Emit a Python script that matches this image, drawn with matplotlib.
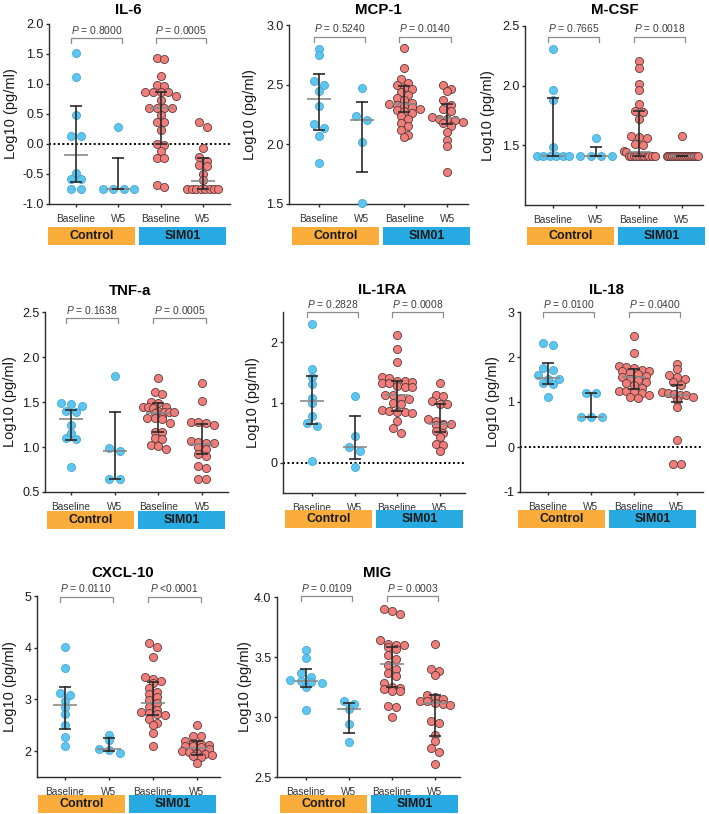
import numpy as np
import matplotlib
matplotlib.use("Agg")
import matplotlib.pyplot as plt
from matplotlib.transforms import blended_transform_factory
from matplotlib.patches import Rectangle

plt.rcParams['font.family'] = ['Liberation Sans', 'DejaVu Sans']
plt.rcParams['axes.unicode_minus'] = False
plt.rcParams['mathtext.fontset'] = 'custom'
plt.rcParams['mathtext.it'] = 'Liberation Sans:italic'
plt.rcParams['mathtext.rm'] = 'Liberation Sans'

# ---------------- data ----------------
categories = ["Baseline", "W5", "Baseline", "W5"]
group_labels = ["Control", "SIM01"]
ylabel = "Log10 (pg/ml)"

# IL-6
il6_cb = [1.52, 1.12, 0.48, 0.13, 0.13, -0.49, -0.59, -0.59, -0.75, -0.75]
il6_cw = [0.28, -0.75, -0.75, -0.75, -0.75]
il6_sb = [1.44, 1.42, 1.14, 0.98, 0.97, 0.87, 0.87, 0.87, 0.86, 0.80, 0.74, 0.60, 0.60,
          0.60, 0.60, 0.48, 0.37, 0.37, 0.23, 0.00, -0.02, -0.11, -0.24, -0.24, -0.68, -0.72]
il6_sw = [0.36, 0.29, -0.06, -0.21, -0.28, -0.35, -0.37, -0.50, -0.60, -0.75, -0.75,
          -0.75, -0.75, -0.75, -0.75, -0.75, -0.75]
il6_med = [-0.18, -0.75, 0.60, -0.62]
il6_q1 = [-0.63, -0.75, 0.00, -0.75]
il6_q3 = [0.63, -0.24, 0.87, -0.23]
il6_p = ["= 0.8000", "= 0.0005"]

# MCP-1
mcp_cb = [2.80, 2.75, 2.53, 2.50, 2.45, 2.32, 2.17, 2.14, 2.07, 1.84]
mcp_cw = [2.47, 2.24, 2.20, 2.02, 1.51]
mcp_sb = [2.81, 2.64, 2.55, 2.51, 2.50, 2.47, 2.46, 2.44, 2.41, 2.39, 2.37, 2.35, 2.34, 2.33,
          2.32, 2.31, 2.30, 2.29, 2.28, 2.26, 2.24, 2.21, 2.18, 2.15, 2.12, 2.08, 2.06]
mcp_sw = [2.50, 2.46, 2.45, 2.37, 2.33, 2.30, 2.28, 2.23, 2.21, 2.21, 2.20, 2.19, 2.18, 2.15,
          2.10, 2.04, 1.99, 1.77]
mcp_med = [2.38, 2.20, 2.335, 2.22]
mcp_q1 = [2.12, 1.77, 2.27, 2.17]
mcp_q3 = [2.59, 2.355, 2.49, 2.34]
mcp_p = ["= 0.5240", "= 0.0140"]

# M-CSF
mcsf_cb = [2.31, 1.96, 1.88, 1.49, 1.41, 1.41, 1.41, 1.41, 1.41, 1.41]
mcsf_cw = [1.56, 1.41, 1.41, 1.41, 1.41]
mcsf_sb = [2.21, 2.15, 2.01, 1.96, 1.85, 1.79, 1.78, 1.72, 1.58, 1.57, 1.56, 1.51, 1.50,
           1.45, 1.44, 1.41, 1.41, 1.41, 1.41, 1.41, 1.41, 1.41, 1.41, 1.41, 1.41, 1.41]
mcsf_sw = [1.58, 1.41, 1.41, 1.41, 1.41, 1.41, 1.41, 1.41, 1.41, 1.41, 1.41, 1.41, 1.41,
           1.41, 1.41, 1.41, 1.41, 1.41]
mcsf_med = [1.41, 1.41, 1.445, 1.41]
mcsf_q1 = [1.41, 1.41, 1.41, 1.41]
mcsf_q3 = [1.90, 1.485, 1.79, 1.41]
mcsf_p = ["= 0.7665", "= 0.0018"]

# TNF-a
tnf_cb = [1.49, 1.48, 1.46, 1.40, 1.39, 1.24, 1.16, 1.10, 1.09, 0.78]
tnf_cw = [1.79, 0.99, 0.96, 0.64, 0.64]
tnf_sb = [1.77, 1.61, 1.59, 1.50, 1.49, 1.45, 1.44, 1.44, 1.43, 1.40, 1.39, 1.39, 1.39,
          1.38, 1.33, 1.32, 1.32, 1.31, 1.27, 1.17, 1.17, 1.10, 1.09, 1.02, 1.01, 0.98]
tnf_sw = [1.71, 1.51, 1.28, 1.28, 1.27, 1.25, 1.07, 1.06, 1.05, 1.05, 1.00, 0.98, 0.92,
          0.90, 0.79, 0.77, 0.65, 0.65]
tnf_med = [1.31, 0.96, 1.38, 1.03]
tnf_q1 = [1.08, 0.64, 1.17, 0.92]
tnf_q3 = [1.415, 1.39, 1.49, 1.26]
tnf_p = ["= 0.1638", "= 0.0005"]

# IL-1RA
ra_cb = [2.30, 1.56, 1.42, 1.31, 1.08, 0.99, 0.78, 0.66, 0.61, 0.03]
ra_cw = [1.11, 0.44, 0.26, 0.19, -0.07]
ra_sb = [2.12, 1.88, 1.67, 1.42, 1.40, 1.36, 1.35, 1.34, 1.33, 1.32, 1.28, 1.26, 1.25,
         1.13, 1.12, 1.08, 1.05, 1.00, 0.98, 0.87, 0.86, 0.85, 0.84, 0.83, 0.70, 0.57, 0.50]
ra_sw = [1.33, 1.13, 1.10, 1.03, 0.98, 0.97, 0.72, 0.70, 0.65, 0.64, 0.63, 0.62, 0.52,
         0.50, 0.42, 0.31, 0.30, 0.19]
ra_med = [1.03, 0.26, 1.13, 0.64]
ra_q1 = [0.65, 0.06, 0.86, 0.51]
ra_q3 = [1.44, 0.78, 1.35, 0.98]
ra_p = ["= 0.2828", "= 0.0008"]

# IL-18
il18_cb = [2.32, 2.26, 1.75, 1.72, 1.60, 1.52, 1.52, 1.42, 1.40, 1.12]
il18_cw = [1.21, 1.21, 0.67, 0.67, 0.67]
il18_sb = [2.47, 2.09, 1.80, 1.77, 1.75, 1.72, 1.70, 1.68, 1.66, 1.62, 1.58, 1.55, 1.52,
           1.50, 1.45, 1.42, 1.38, 1.32, 1.25, 1.24, 1.22, 1.20, 1.15, 1.12, 1.10]
il18_sw = [1.85, 1.73, 1.60, 1.55, 1.52, 1.45, 1.38, 1.22, 1.20, 1.18, 1.16, 1.15, 1.12,
           1.05, 0.88, 0.15, -0.37, -0.37]
il18_med = [1.53, 0.67, 1.56, 1.15]
il18_q1 = [1.41, 0.67, 1.30, 1.00]
il18_q3 = [1.87, 1.21, 1.73, 1.37]
il18_p = ["= 0.0100", "= 0.0400"]

# CXCL-10
cx_cb = [4.02, 3.61, 3.12, 3.08, 2.97, 2.86, 2.72, 2.50, 2.27, 2.09]
cx_cw = [2.32, 2.22, 2.04, 2.03, 1.97]
cx_sb = [4.10, 4.02, 3.83, 3.44, 3.40, 3.35, 3.32, 3.22, 3.15, 3.10, 3.05, 2.98, 2.93,
         2.85, 2.80, 2.75, 2.73, 2.72, 2.70, 2.62, 2.55, 2.50, 2.35, 2.09]
cx_sw = [2.50, 2.30, 2.30, 2.20, 2.16, 2.14, 2.12, 2.10, 2.10, 2.08, 2.05, 2.00, 1.98,
         1.96, 1.95, 1.93, 1.90, 1.88, 1.78]
cx_med = [2.90, 2.05, 2.93, 2.07]
cx_q1 = [2.42, 2.00, 2.69, 1.93]
cx_q3 = [3.24, 2.26, 3.34, 2.19]
cx_p = ["= 0.0110", "<0.0001"]

# MIG
mig_cb = [3.56, 3.49, 3.37, 3.33, 3.31, 3.30, 3.29, 3.28, 3.25, 3.06]
mig_cw = [3.13, 3.11, 3.07, 2.94, 2.79]
mig_sb = [3.90, 3.88, 3.86, 3.64, 3.61, 3.60, 3.60, 3.58, 3.57, 3.52, 3.48, 3.43, 3.40,
          3.37, 3.34, 3.28, 3.25, 3.24, 3.23, 3.22, 3.22, 3.09, 3.08, 3.00]
mig_sw = [3.61, 3.40, 3.38, 3.35, 3.18, 3.17, 3.15, 3.13, 3.13, 3.12, 3.11, 3.10, 2.97,
          2.95, 2.85, 2.80, 2.74, 2.71, 2.61]
mig_med = [3.30, 3.07, 3.44, 3.12]
mig_q1 = [3.25, 2.87, 3.25, 2.84]
mig_q3 = [3.40, 3.12, 3.58, 3.18]
mig_p = ["= 0.0109", "= 0.0003"]

titles = ["IL-6", "MCP-1", "M-CSF", "TNF-a", "IL-1RA", "IL-18", "CXCL-10", "MIG"]

# ---------------- layout / style ----------------
W, H = 709, 814
fig = plt.figure(figsize=(W / 100, H / 100), dpi=100)

CTRL_FILL, CTRL_EDGE = '#5CC5F0', '#3A9FCB'
SIM_FILL, SIM_EDGE = '#F07D79', '#5A3A3A'
ORANGE, BLUE = '#FBAD3C', '#27AAE1'
DARK = '#2B2B2B'

panels = [
    dict(title=titles[0], data=[il6_cb, il6_cw, il6_sb, il6_sw], med=il6_med, q1=il6_q1, q3=il6_q3,
         p=il6_p, box=(49, 230, 24, 204), cat=(76, 42.3), ylim=(-1.0, 2.0),
         yticks=[-1.0, -0.5, 0.0, 0.5, 1.0, 1.5, 2.0], fmt='{:.1f}', zero=True,
         tpos=(128, 10), by=38, bar=(48, 227), ylx=11),
    dict(title=titles[1], data=[mcp_cb, mcp_cw, mcp_sb, mcp_sw], med=mcp_med, q1=mcp_q1, q3=mcp_q3,
         p=mcp_p, box=(289, 468, 25, 204), cat=(319, 42.7), ylim=(1.5, 3.0),
         yticks=[1.5, 2.0, 2.5, 3.0], fmt='{:.1f}', zero=False,
         tpos=(378, 10), by=37, bar=(292, 227), ylx=250),
    dict(title=titles[2], data=[mcsf_cb, mcsf_cw, mcsf_sb, mcsf_sw], med=mcsf_med, q1=mcsf_q1,
         q3=mcsf_q3, p=mcsf_p, box=(525, 703, 26, 205), cat=(553, 43), ylim=(1.0, 2.5),
         yticks=[1.5, 2.0, 2.5], fmt='{:.1f}', zero=False,
         tpos=(615, 10), by=37, bar=(527, 227), ylx=488),
    dict(title=titles[3], data=[tnf_cb, tnf_cw, tnf_sb, tnf_sw], med=tnf_med, q1=tnf_q1, q3=tnf_q3,
         p=tnf_p, box=(45, 228, 312, 492), cat=(71, 43.7), ylim=(0.5, 2.5),
         yticks=[0.5, 1.0, 1.5, 2.0, 2.5], fmt='{:.1f}', zero=False,
         tpos=(130, 291), by=318, bar=(47, 511), ylx=10),
    dict(title=titles[4], data=[ra_cb, ra_cw, ra_sb, ra_sw], med=ra_med, q1=ra_q1, q3=ra_q3,
         p=ra_p, box=(283, 465, 312, 493), cat=(312, 42.5), ylim=(-0.5, 2.5),
         yticks=[0, 1, 2], fmt='{:.0f}', zero=True,
         tpos=(382, 290), by=312, bar=(285, 510), ylx=253),
    dict(title=titles[5], data=[il18_cb, il18_cw, il18_sb, il18_sw], med=il18_med, q1=il18_q1,
         q3=il18_q3, p=il18_p, box=(520, 703, 312, 492), cat=(548, 43), ylim=(-1, 3),
         yticks=[-1, 0, 1, 2, 3], fmt='{:.0f}', zero=True,
         tpos=(607, 290), by=312, bar=(518, 510), ylx=493),
    dict(title=titles[6], data=[cx_cb, cx_cw, cx_sb, cx_sw], med=cx_med, q1=cx_q1, q3=cx_q3,
         p=cx_p, box=(37, 220, 596, 777), cat=(65, 44), ylim=(1.5, 5.0),
         yticks=[2, 3, 4, 5], fmt='{:.0f}', zero=False,
         tpos=(123, 573), by=597, bar=(38, 795), ylx=10),
    dict(title=titles[7], data=[mig_cb, mig_cw, mig_sb, mig_sw], med=mig_med, q1=mig_q1, q3=mig_q3,
         p=mig_p, box=(277, 460, 597, 777), cat=(306, 43), ylim=(2.5, 4.0),
         yticks=[2.5, 3.0, 3.5, 4.0], fmt='{:.1f}', zero=False,
         tpos=(377, 573), by=596, bar=(280, 795), ylx=245),
]


def swarm(vals, ppu_y, sep, maxspan, tol=5.0):
    v = np.sort(np.asarray(vals, dtype=float))[::-1]
    off = np.zeros(len(v))
    rows, cur = [], [0]
    for i in range(1, len(v)):
        if (v[cur[0]] - v[i]) * ppu_y <= tol:
            cur.append(i)
        else:
            rows.append(cur)
            cur = [i]
    rows.append(cur)
    for row in rows:
        n = len(row)
        st = sep if n < 2 else min(sep, maxspan / (n - 1))
        for k, idx in enumerate(row):
            off[idx] = (k - (n - 1) / 2) * st
    return v, off


def fx(px):
    return px / W


def fy(py):
    return 1 - py / H


for p in panels:
    L, R, T, B = p['box']
    ax = fig.add_axes([fx(L), fy(B), (R - L) / W, (B - T) / H])
    c0, step = p['cat']
    ax.set_xlim((L - c0) / step, (R - c0) / step)
    y0, y1 = p['ylim']
    ax.set_ylim(y0, y1)
    ppu_y = (B - T) / (y1 - y0)

    for s in ['top', 'right']:
        ax.spines[s].set_visible(False)
    for s in ['left', 'bottom']:
        ax.spines[s].set_color(DARK)
        ax.spines[s].set_linewidth(1.0)

    ax.set_xticks(range(4))
    ax.set_xticklabels(categories, fontsize=7.3, color='#333333')
    ax.set_yticks(p['yticks'])
    ax.set_yticklabels([p['fmt'].format(t) for t in p['yticks']], fontsize=9, color='#1a1a1a')
    ax.tick_params(axis='y', length=2.5, width=1.0, pad=1.5, color=DARK)
    ax.tick_params(axis='x', length=2.5, width=1.0, pad=4.5, color=DARK)
    ax.set_ylabel(ylabel, fontsize=10.5, color='#1a1a1a')
    ax.yaxis.set_label_coords((p['ylx'] + 7 - L) / (R - L), 0.5)

    if p['zero']:
        ax.axhline(0, color='black', lw=1.4, ls=(0, (1, 1.3)), zorder=1)

    for gi, vals in enumerate(p['data']):
        ctrl = gi < 2
        sep = 10.5 if ctrl else 7.7
        v, off = swarm(vals, ppu_y, sep, 32 if ctrl else 31)
        ax.scatter(gi + off / step, v, s=34,
                   c=CTRL_FILL if ctrl else SIM_FILL,
                   edgecolors=CTRL_EDGE if ctrl else SIM_EDGE,
                   linewidths=0.5 if ctrl else 0.6, zorder=3, clip_on=False)
        mh = 12 / step
        ch = 6 / step
        ax.plot([gi - mh, gi + mh], [p['med'][gi]] * 2, color='#8a8a8a', lw=1.2, zorder=4,
                solid_capstyle='butt')
        ax.plot([gi, gi], [p['q1'][gi], p['q3'][gi]], color=DARK, lw=1.2, zorder=4)
        for q in (p['q1'][gi], p['q3'][gi]):
            ax.plot([gi - ch, gi + ch], [q, q], color=DARK, lw=1.2, zorder=4,
                    solid_capstyle='butt')

    # brackets with p-values
    tr = blended_transform_factory(ax.transData, fig.transFigure)
    by = p['by']
    for k, (a, b) in enumerate([(0, 1), (2, 3)]):
        xa, xb = a - 0.12, b + 0.08
        ax.plot([xa, xa, xb, xb], [fy(by + 5), fy(by), fy(by), fy(by + 5)], transform=tr,
                color='#8c8c8c', lw=0.9, clip_on=False, zorder=5)
        ax.text((xa + xb) / 2, fy(by - 2.5), r'$\mathit{P}$ ' + p['p'][k], transform=tr,
                ha='center', va='bottom', fontsize=7.4, color='#3c3c3c')

    fig.text(fx(p['tpos'][0]), fy(p['tpos'][1]), p['title'], ha='center', va='center',
             fontsize=10.8, fontweight='bold', color='black')

    bl, bt = p['bar']
    for k, (col, lab) in enumerate(zip([ORANGE, BLUE], group_labels)):
        x0 = bl + k * 91
        fig.patches.append(Rectangle((fx(x0), fy(bt + 17.5)), 87 / W, 17.5 / H,
                                     transform=fig.transFigure, facecolor=col,
                                     edgecolor='none', zorder=1))
        fig.text(fx(x0 + 43.5), fy(bt + 9), lab, ha='center', va='center', fontsize=9,
                 fontweight='bold', color='#1a1a1a')

fig.savefig('out.png', dpi=100)
